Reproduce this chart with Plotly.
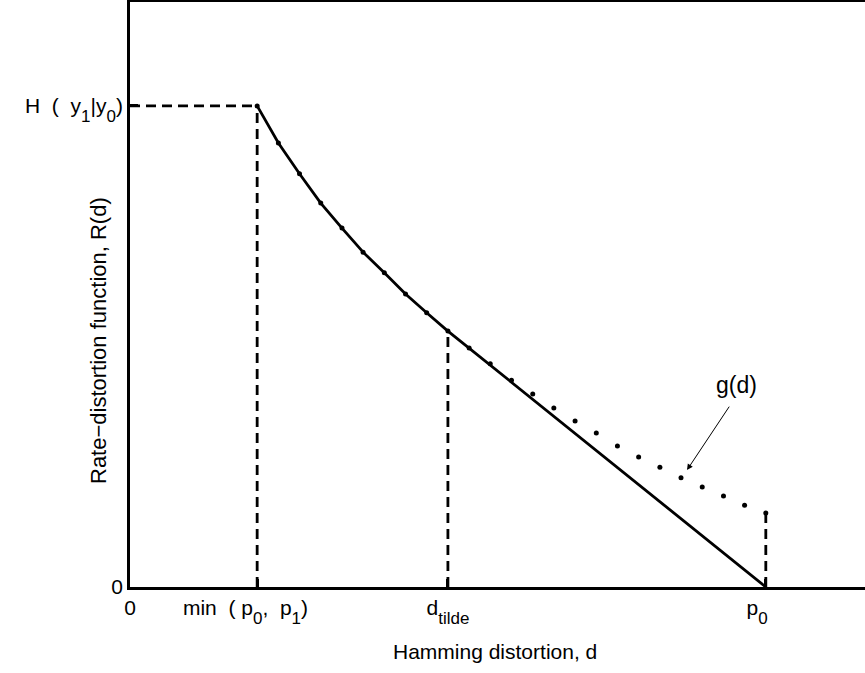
import plotly.graph_objects as go

# Distortion values (d) at sample points of g(d)
d_vals = [0.1, 0.1167, 0.1333, 0.15, 0.1667, 0.1833, 0.2, 0.2167, 0.2333, 0.25,
          0.2667, 0.2833, 0.3, 0.3167, 0.3333, 0.35, 0.3667, 0.3833, 0.4, 0.4167,
          0.4333, 0.45, 0.4667, 0.4833, 0.5]
g_vals = [1.0, 0.923, 0.859, 0.798, 0.746, 0.696, 0.653, 0.609, 0.570, 0.532,
          0.497, 0.464, 0.430, 0.401, 0.372, 0.345, 0.320, 0.293, 0.270, 0.249,
          0.227, 0.208, 0.189, 0.170, 0.154]
# Rate-distortion function R(d): curve up to d_tilde, then linear to p0
r_d = [0.1, 0.1167, 0.1333, 0.15, 0.1667, 0.1833, 0.2, 0.2167, 0.2333, 0.25, 0.5]
r_vals = [1.0, 0.923, 0.859, 0.798, 0.746, 0.696, 0.653, 0.609, 0.570, 0.532, 0.0]

H_val = 1.0
min_p = 0.1
d_tilde = 0.25
p0 = 0.5
g_p0 = 0.154
r_tilde = 0.532


def sub(s):
    return "<sub><span style='font-size:17px;baseline-shift:-4px'>" + s + "</span></sub>"


NB = "&nbsp;"
x_tickvals = [0, min_p, d_tilde, p0]
x_ticktext = ["0",
              "min" + NB * 2 + "(" + NB + "p" + sub("0") + "," + NB * 2 + "p" + sub("1") + ")" + NB * 4,
              "d" + sub("tilde"),
              "p" + sub("0") + NB * 3]
y_tickvals = [0, H_val]
y_ticktext = ["0", "H" + NB * 2 + "(" + NB * 2 + "y" + sub("1") + "|y" + sub("0") + ")"]

FONT = "Liberation Sans, Arial, sans-serif"
FS = 21
L, T, PW, PH = 130, 2, 735, 585


def px_x(p):
    return (p - L) / PW


def px_y(p):
    return 1 - (p - T) / PH


fig = go.Figure()

dash = "10px,6px"
LW = 2.8
for xs, ys in [([0, min_p], [H_val, H_val]), ([min_p, min_p], [0, H_val]),
               ([d_tilde, d_tilde], [0, r_tilde]), ([p0, p0], [0, g_p0])]:
    fig.add_trace(go.Scatter(x=xs, y=ys, mode="lines",
                             line=dict(color="black", width=LW, dash=dash), hoverinfo="skip"))
# g(d) dotted
fig.add_trace(go.Scatter(x=d_vals, y=g_vals, mode="markers",
                         marker=dict(color="black", size=5), hoverinfo="skip"))
# R(d) solid
fig.add_trace(go.Scatter(x=r_d, y=r_vals, mode="lines",
                         line=dict(color="black", width=LW), hoverinfo="skip"))

fig.add_annotation(x=0.438, y=0.243, ax=0.472, ay=0.378, xref="x", yref="y",
                   axref="x", ayref="y", text="", showarrow=True,
                   arrowhead=2, arrowsize=1.2, arrowwidth=1, arrowcolor="black")
fig.add_annotation(x=px_x(736), y=px_y(385), xref="paper", yref="paper", text="g(d)",
                   showarrow=False, xanchor="center", yanchor="middle",
                   font=dict(size=23, color="black", family=FONT))
fig.add_annotation(x=px_x(98), y=px_y(341), xref="paper", yref="paper",
                   text="Rate\u2212distortion function, R(d)",
                   showarrow=False, textangle=-90, xanchor="center", yanchor="middle",
                   font=dict(size=22, color="black", family=FONT))
fig.add_annotation(x=px_x(495), y=px_y(651), xref="paper", yref="paper",
                   text="Hamming distortion, d",
                   showarrow=False, xanchor="center", yanchor="middle",
                   font=dict(size=FS, color="black", family=FONT))

fig.update_layout(
    width=865, height=673,
    margin=dict(l=L, r=0, t=T, b=86),
    paper_bgcolor="white", plot_bgcolor="white",
    showlegend=False,
    font=dict(family=FONT, size=FS, color="black"),
    xaxis=dict(range=[0, 0.578], tickvals=x_tickvals, ticktext=x_ticktext,
               ticks="inside", ticklen=8, tickwidth=LW, tickcolor="black",
               showline=True, linecolor="black", linewidth=LW, mirror=True,
               showgrid=False, zeroline=False, tickfont=dict(size=FS)),
    yaxis=dict(range=[0, 1.216], tickvals=y_tickvals, ticktext=y_ticktext,
               ticks="inside", ticklen=8, tickwidth=LW, tickcolor="black",
               showline=True, linecolor="black", linewidth=LW, mirror=False,
               showgrid=False, zeroline=False, tickfont=dict(size=FS)),
)
fig.write_html("out.html")
